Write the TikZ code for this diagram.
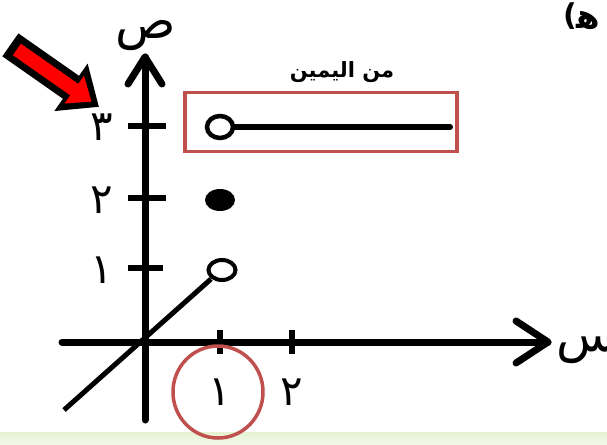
\documentclass[tikz,border=0pt]{standalone}
\usepackage{fontspec}
\setmainfont{DejaVu Sans}
\newfontfamily\arabicfont[Script=Arabic]{DejaVu Sans}
\TeXXeTstate=1
\definecolor{boxred}{HTML}{C0504D}
\definecolor{bandgreen}{HTML}{E6F3D3}
\begin{document}
\begin{tikzpicture}[x=1pt,y=-1pt,
  axis/.style={line width=7pt,line cap=round},
  tick/.style={line width=5.5pt},
  numlbl/.style={font=\arabicfont\fontsize{42}{48}\selectfont,inner sep=0pt},
  axlbl/.style={font=\arabicfont\fontsize{50}{56}\selectfont,inner sep=0pt},
  hl/.style={draw=boxred,line width=3.5pt}]
\useasboundingbox (0,0) rectangle (607,444);
\fill[white] (0,0) rectangle (607,444);
\shade[top color=bandgreen,bottom color=bandgreen!50] (0,432) rectangle (607,444);
% axes
\coordinate (ybot) at (145,420);
\coordinate (ytop) at (145,57);
\coordinate (xl) at (62,342);
\coordinate (xr) at (548,342);
\draw[axis] (ybot) -- (ytop);
\draw[axis,line join=round] (128,84) -- (ytop) -- (162,84);
\draw[axis] (xl) -- (xr);
\draw[axis,line join=round] (516,321) -- (xr) -- (516,363);
% ticks
\draw[tick] (128,126) -- (166,126);
\draw[tick] (128,198) -- (166,198);
\draw[tick] (128,268) -- (163,268);
\draw[tick] (220,330) -- (220,354);
\draw[tick] (292,330) -- (292,354);
% labels
\node[numlbl] (y3) at (102,127) {٣};
\node[numlbl] (y2) at (102,200) {٢};
\node[numlbl] (y1) at (102,270) {١};
\node[numlbl] (x1) at (220,392) {١};
\node[numlbl] (x2) at (292,392) {٢};
\node[axlbl] (ylab) at (146,36) {ص};
\node[axlbl,anchor=west] (xlab) at (556,348) {س};
\node[font=\bfseries\fontsize{30}{34}\selectfont,anchor=east,inner sep=0pt] (paren) at (577,16) {(};
\node[font=\arabicfont\bfseries\fontsize{34}{38}\selectfont,anchor=west,inner sep=0pt] (corner) at (576,20) {ﻫ};
% function pieces
\coordinate (dstart) at (64,410);
\coordinate (dend) at (211,279);
\draw[line width=5pt] (dstart) -- (dend);
\draw[line width=4pt,fill=white] (222,270) ellipse [x radius=13.5, y radius=10];
\fill (220,200) ellipse [x radius=15, y radius=11];
\coordinate (rayend) at (450,127);
\draw[line width=6pt,line cap=round] (233,127) -- (rayend);
\draw[line width=4.5pt,fill=white] (220,127) ellipse [x radius=13, y radius=11];
% highlights
\node[hl,minimum width=272pt,minimum height=59pt,inner sep=0pt] (box) at (321,122) {};
\node[font=\arabicfont\bfseries\fontsize{21}{24}\selectfont,inner sep=0pt] (rt) at (342,72) {\beginR من اليمين\endR};
\draw[hl] (218,392) ellipse [x radius=45, y radius=46];
% pointer arrow
\begin{scope}[shift={(12,46)},rotate=-35]
\fill[black] (-2,-14) -- (72,-14) -- (72,-29) -- (106,0) -- (72,29) -- (72,14) -- (-2,14) -- cycle;
\fill[red] (6,-7) -- (76,-7) -- (76,-17) -- (97,0) -- (76,17) -- (76,7) -- (6,7) -- cycle;
\end{scope}
\end{tikzpicture}
\end{document}
